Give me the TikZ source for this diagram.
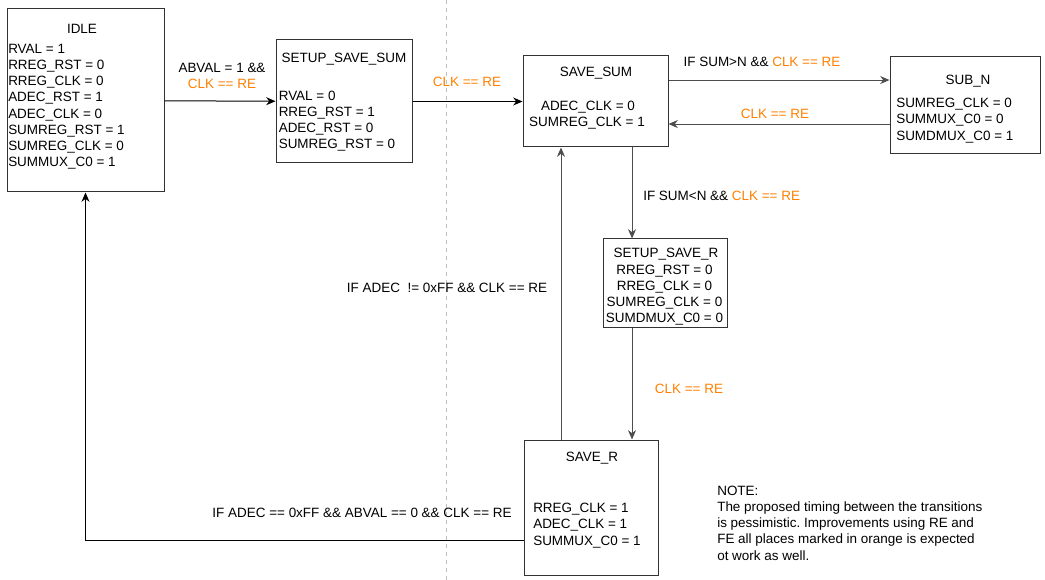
\documentclass[tikz,border=0pt]{standalone}
\usepackage{fontspec}
\setmainfont{Liberation Sans}
\usetikzlibrary{arrows.meta,fit}
\definecolor{sig}{HTML}{FF8000}
\definecolor{edgegray}{HTML}{4D4D4D}
\definecolor{boxline}{HTML}{333333}
\frenchspacing

\begin{document}
\begin{tikzpicture}[x=0.75pt,y=-0.75pt,
  box/.style={draw=boxline, line width=0.75pt, inner sep=0pt},
  txt/.style={inner sep=0pt, font=\fontsize{10.1pt}{12pt}\selectfont, text=black},
  sigtxt/.style={txt, text=sig},
  arr/.style={draw=edgegray, line width=0.75pt, -{Stealth[length=7pt,width=6pt]}},
  arrdark/.style={arr, draw=black},
  dashline/.style={draw=black!25, line width=0.75pt, dash pattern=on 3pt off 3pt}]

\useasboundingbox (0,0) rectangle (1045,580);

% separator
\coordinate (dtop) at (446,0);
\coordinate (dbot) at (446,580);
\draw[dashline] (dtop) -- (dbot);

% state boxes
\node[box, fit={(7,9)(164,192)}] (idle) {};
\node[box, fit={(276,40)(412,163)}] (ssum) {};
\node[box, fit={(523,56)(668,147)}] (savesum) {};
\node[box, fit={(890,57)(1040,154)}] (subn) {};
\node[box, fit={(603,239)(727,328)}] (setupr) {};
\node[box, fit={(524,440)(658,575)}] (saver) {};

% IDLE
\node[txt, anchor=base] (idle-t) at (82,33.3) {IDLE};
\foreach \s [count=\i] in {RVAL = 1, RREG\_RST = 0, RREG\_CLK = 0, ADEC\_RST = 1,
  ADEC\_CLK = 0, SUMREG\_RST = 1, SUMREG\_CLK = 0, SUMMUX\_C0 = 1}
  \node[txt, anchor=base west] (idle-\i) at (8,{53.3+16.2*(\i-1)}) {\s};

% SETUP_SAVE_SUM
\node[txt, anchor=base] (ssum-t) at (344,62.3) {SETUP\_SAVE\_SUM};
\foreach \s [count=\i] in {RVAL = 0, RREG\_RST = 1, ADEC\_RST = 0, SUMREG\_RST = 0}
  \node[txt, anchor=base west] (ssum-\i) at (278.5,{100.3+16.1*(\i-1)}) {\s};

% SAVE_SUM
\node[txt, anchor=base] (savesum-t) at (596,76.3) {SAVE\_SUM};
\node[txt, anchor=base] (savesum-1) at (588,110.3) {ADEC\_CLK = 0};
\node[txt, anchor=base] (savesum-2) at (587,126.5) {SUMREG\_CLK = 1};

% SUB_N
\node[txt, anchor=base] (subn-t) at (968,84.3) {SUB\_N};
\foreach \s [count=\i] in {SUMREG\_CLK = 0, SUMMUX\_C0 = 0, SUMDMUX\_C0 = 1}
  \node[txt, anchor=base west] (subn-\i) at (896,{107.3+16.5*(\i-1)}) {\s};

% SETUP_SAVE_R
\node[txt, anchor=base] (setupr-t) at (666,257.5) {SETUP\_SAVE\_R};
\foreach \s [count=\i] in {RREG\_RST = 0, RREG\_CLK = 0, SUMREG\_CLK = 0, SUMDMUX\_C0 = 0}
  \node[txt, anchor=base] (setupr-\i) at (664.5,{274.3+16.1*(\i-1)}) {\s};

% SAVE_R
\node[txt, anchor=base] (saver-t) at (592,461.3) {SAVE\_R};
\foreach \s [count=\i] in {RREG\_CLK = 1, ADEC\_CLK = 1, SUMMUX\_C0 = 1}
  \node[txt, anchor=base west] (saver-\i) at (533,{512.3+16.4*(\i-1)}) {\s};

% transitions
\draw[arrdark] (idle) -- (ssum);
\draw[arrdark] (ssum) -- (savesum);
\draw[arr] ([yshift=16.1pt]savesum.east) -- ([yshift=16.1pt]savesum.east -| subn.west);
\draw[arr] ([yshift=-13.9pt]subn.west) -- ([yshift=-13.9pt]subn.west -| savesum.east);
\draw[arr] ([xshift=27.4pt]savesum.south) -- ([xshift=27.4pt]savesum.south |- setupr.north);
\draw[arr] ([xshift=-24.75pt]setupr.south) -- ([xshift=-24.75pt]setupr.south |- saver.north);
\draw[arr] ([xshift=-22.5pt]saver.north) -- ([xshift=-22.5pt]saver.north |- savesum.south);
\draw[arrdark] ([yshift=-25.1pt]saver.west) -| (idle.south);

% transition conditions
\node[txt, anchor=base] (c1a) at (222,72.6) {ABVAL = 1 \&\&};
\node[sigtxt, anchor=base] (c1b) at (222,88.3) {CLK == RE};
\node[sigtxt, anchor=base] (c2) at (467,86.3) {CLK == RE};
\node[txt, anchor=base] (c3) at (762,66.3) {IF SUM>N \&\& \textcolor{sig}{CLK == RE}};
\node[sigtxt, anchor=base] (c4) at (775,118.3) {CLK == RE};
\node[txt, anchor=base west] (c5) at (643,200.3) {IF SUM<N \&\& \textcolor{sig}{CLK == RE}};
\node[sigtxt, anchor=base] (c6) at (689,393.3) {CLK == RE};
\node[txt, anchor=base] (c7) at (447,292.3) {IF ADEC\ \ != 0xFF \&\& CLK == RE};
\node[txt, anchor=base] (c8) at (362,517.3) {IF ADEC == 0xFF \&\& ABVAL == 0 \&\& CLK == RE};

% note
\foreach \s [count=\i] in {NOTE:, The proposed timing between the transitions,
  is pessimistic. Improvements using RE and, FE all places marked in orange is expected,
  ot work as well.}
  \node[txt, anchor=base west] (note-\i) at (717,{495.3+16.2*(\i-1)}) {\s};

\end{tikzpicture}
\end{document}
